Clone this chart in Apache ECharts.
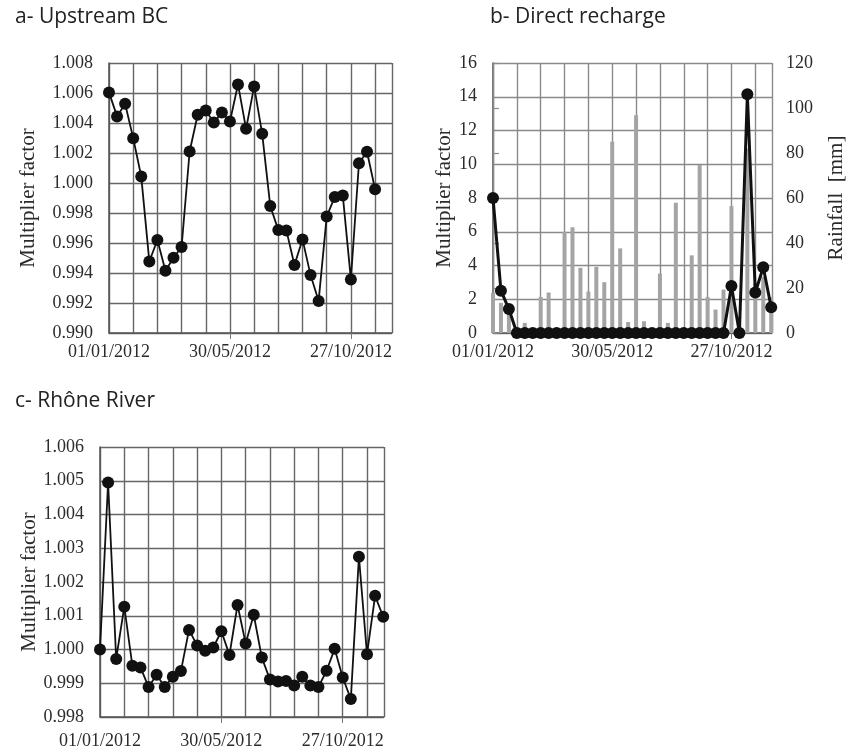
<!DOCTYPE html>
<html>
<head>
<meta charset="utf-8">
<script src="https://cdn.jsdelivr.net/npm/echarts@6/dist/echarts.min.js"></script>
<style>
  html, body { margin: 0; padding: 0; background: #fff; }
  #main { width: 856px; height: 751px; }
</style>
</head>
<body>
<div id="main"></div>
<script>
// sampling dates, in days after 01/01/2012 (one value every 10 days)
const sampleDays = [0, 10, 20, 30, 40, 50, 60, 70, 80, 90, 100, 110, 120, 130, 140, 150, 160, 170,
  180, 190, 200, 210, 220, 230, 240, 250, 260, 270, 280, 290, 300, 310, 320, 330, 340, 350]

// date tick labels and where they sit
const labelDays = [0, 150, 300]
const labelDates = ['01/01/2012', '30/05/2012', '27/10/2012']

// a- Upstream BC (34 values)
const upstreamBC = [1.00604, 1.00444, 1.00528, 1.00299, 1.00043, 0.99477, 0.99620, 0.99415, 0.99502, 0.99573,
  1.00210, 1.00455, 1.00484, 1.00404, 1.00470, 1.00410, 1.00657, 1.00361, 1.00644, 1.00328,
  0.99847, 0.99686, 0.99684, 0.99453, 0.99624, 0.99386, 0.99214, 0.99776, 0.99907, 0.99916,
  0.99357, 1.00132, 1.00208, 0.99958]

// b- Direct recharge multiplier
const directRecharge = [8.0, 2.51, 1.42, 0, 0, 0, 0, 0, 0, 0,
  0, 0, 0, 0, 0, 0, 0, 0, 0, 0,
  0, 0, 0, 0, 0, 0, 0, 0, 0, 0,
  2.79, 0, 14.15, 2.4, 3.9, 1.52]

// b- rainfall [mm]
const rainfall = [17.8, 13.4, 9, 0, 4.5, 0, 16, 18, 0, 45,
  47, 29, 18.4, 29.4, 22.6, 85, 37.6, 4.9, 96.8, 5.2,
  2, 26.4, 4.5, 57.9, 0, 34.5, 74.7, 16, 10.4, 19.3,
  56.4, 0, 82, 22, 25, 16]

// c- Rhône River
const rhoneRiver = [1.0000, 1.00495, 0.99972, 1.00127, 0.99952, 0.99947, 0.99889, 0.99925, 0.99889, 0.99919,
  0.99936, 1.00058, 1.00012, 0.99996, 1.00006, 1.00054, 0.99984, 1.00132, 1.00018, 1.00103,
  0.99976, 0.99911, 0.99905, 0.99907, 0.99893, 0.99919, 0.99893, 0.99889, 0.99937, 1.00002,
  0.99917, 0.99853, 1.00275, 0.99986, 1.00159, 1.00097]

const pairs = (vals) => vals.map((v, i) => [sampleDays[i], v])

const serif = 'Liberation Serif'
const textColor = '#2b2b2b'
const dayMax = 351

function dateAxis(gridIndex, gridColor, labelMargin) {
  return {
    type: 'value', gridIndex, min: 0, max: dayMax, interval: 30,
    axisLine: { show: true, onZero: false, lineStyle: { color: '#555', width: 1.5 } },
    axisTick: { show: false },
    axisLabel: {
      margin: labelMargin, fontFamily: serif, fontSize: 18, color: textColor,
      showMinLabel: true, showMaxLabel: false,
      formatter: (v) => {
        const k = labelDays.indexOf(Math.round(v))
        return k < 0 ? '' : labelDates[k]
      },
    },
    splitLine: { show: true, lineStyle: { color: gridColor, width: 1.4 } },
  }
}

// small tick marks under the labelled dates only
function tickAxis(gridIndex) {
  return {
    type: 'value', gridIndex, min: 0, max: dayMax, position: 'bottom',
    axisLine: { show: false },
    axisTick: { show: true, customValues: labelDays.slice(1), length: 6, lineStyle: { color: '#777', width: 1 } },
    axisLabel: { show: false },
    splitLine: { show: false },
  }
}

function factorAxis(gridIndex, min, max, interval, digits, gap, gridColor) {
  return {
    type: 'value', gridIndex, min, max, interval,
    name: 'Multiplier factor', nameLocation: 'middle', nameGap: gap,
    nameTextStyle: { fontFamily: serif, fontSize: 21, color: textColor },
    axisLine: { show: true, lineStyle: { color: '#555', width: 1.5 } },
    axisTick: { show: false },
    axisLabel: {
      fontFamily: serif, fontSize: 18, color: textColor, margin: 16,
      formatter: (v) => v.toFixed(digits),
    },
    splitLine: { show: true, lineStyle: { color: gridColor, width: 1.4 } },
  }
}

const chart = echarts.init(document.getElementById('main'))

const lineStyle = (w) => ({
  type: 'line', symbol: 'circle', symbolSize: 12, z: 5,
  lineStyle: { color: '#111', width: w },
  itemStyle: { color: '#111' },
  emphasis: { disabled: true },
})

const titleFont = { fontFamily: 'Open Sans', fontSize: 21, fontWeight: 'normal', color: '#222' }

chart.setOption({
  animation: false,
  title: [
    { text: 'a- Upstream BC', left: 10, top: 2, textStyle: titleFont },
    { text: 'b- Direct recharge', left: 485, top: 2, textStyle: titleFont },
    { text: 'c- Rhône River', left: 10, top: 386, textStyle: titleFont },
  ],
  grid: [
    { left: 109, top: 63, width: 283, height: 270 },
    { left: 493, top: 63, width: 279, height: 270 },
    { left: 100, top: 447, width: 284, height: 270 },
  ],
  xAxis: [
    dateAxis(0, '#666', 10),
    dateAxis(1, '#8a8a8a', 10),
    dateAxis(2, '#666', 15),
    tickAxis(0),
    tickAxis(1),
    tickAxis(2),
  ],
  yAxis: [
    factorAxis(0, 0.990, 1.008, 0.002, 3, 70, '#666'),
    factorAxis(1, 0, 16, 2, 0, 24, '#8a8a8a'),
    {
      type: 'value', gridIndex: 1, position: 'right', min: 0, max: 120, interval: 20,
      name: 'Rainfall  [mm]', nameLocation: 'middle', nameGap: 54, nameRotate: 90,
      nameTextStyle: { fontFamily: serif, fontSize: 21, color: textColor },
      axisLine: { show: true, lineStyle: { color: '#8a8a8a', width: 1.4 } },
      axisTick: { show: true, length: 6, lineStyle: { color: '#8a8a8a', width: 1.2 } },
      axisLabel: { fontFamily: serif, fontSize: 18, color: textColor, margin: 14 },
      splitLine: { show: false },
    },
    factorAxis(2, 0.998, 1.006, 0.001, 3, 53, '#666'),
  ],
  series: [
    Object.assign(lineStyle(1.8), { xAxisIndex: 0, yAxisIndex: 0, data: pairs(upstreamBC) }),
    {
      type: 'bar', xAxisIndex: 1, yAxisIndex: 2, barWidth: 4, z: 2,
      itemStyle: { color: '#a4a4a4' }, emphasis: { disabled: true },
      data: pairs(rainfall),
    },
    Object.assign(lineStyle(3), { xAxisIndex: 1, yAxisIndex: 1, data: pairs(directRecharge) }),
    Object.assign(lineStyle(1.8), { xAxisIndex: 2, yAxisIndex: 3, data: pairs(rhoneRiver) }),
  ],
})
</script>
</body>
</html>
